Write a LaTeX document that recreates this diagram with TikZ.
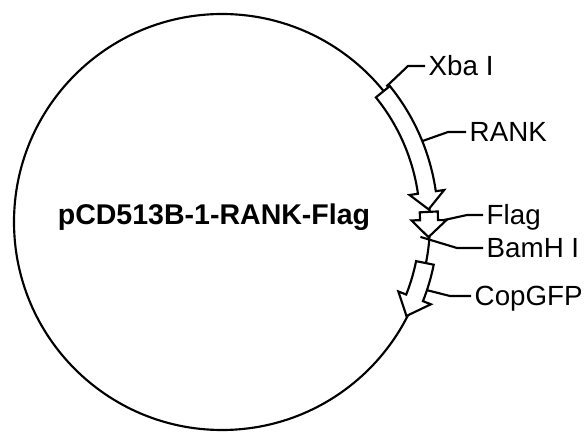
\documentclass[tikz,border=0pt]{standalone}
\usepackage{fontspec}
\setmainfont{Liberation Sans}
\usetikzlibrary{positioning}
\tikzset{
x=0.75pt, y=0.75pt, % one unit is one pixel of the map
gene/.style={draw, fill=white, line join=miter}, % the outlined feature arrows
leader/.style={draw, line join=round}, % the lines from a label to the ring
site/.style={anchor=west, inner xsep=2pt, inner ysep=0pt, text height=14.9pt, text depth=0pt, font=\fontsize{20.8}{24}\selectfont},
title/.style={anchor=base, inner sep=0pt, font=\fontsize{21.4}{25}\selectfont\bfseries},
}

\begin{document}
\begin{tikzpicture}[line width=1.6pt]
\useasboundingbox (0,0) rectangle (584,432);

\coordinate (c) at (222,210);
\draw (c) circle[radius=208];

\node[title] (plasmid) at (214,207) {pCD513B-1-RANK-Flag};

\begin{scope}[shift={(c)}]
% RANK
\draw[gene] (39:198) arc[start angle=39, end angle=8.2, radius=198] -- (8.2:189.5) -- (3.5:207) -- (8.2:224.5) -- (8.2:216) arc[start angle=8.2, end angle=39, radius=216] -- cycle;
% Flag
\draw[gene] (2.8:198) arc[start angle=2.8, end angle=0.5, radius=198] -- (0.5:189.5) -- (-4.2:207) -- (0.5:224.5) -- (0.5:216) arc[start angle=0.5, end angle=2.8, radius=216] -- cycle;
% CopGFP
\draw[gene] (-11.4:198) arc[start angle=-11.4, end angle=-21.5, radius=198] -- (-21.5:189.5) -- (-27:207) -- (-21.5:224.5) -- (-21.5:216) arc[start angle=-21.5, end angle=-11.4, radius=216] -- cycle;

\coordinate (xba) at (39.5:213);
\coordinate (rank) at (22:216);
\coordinate (flag) at (0.5:222);
\coordinate (bamh) at (-4.3:199);
\coordinate (copgfp) at (-18.4:216);
\end{scope}

\node[site] (xbalabel) at (425,366) {Xba I};
\node[site] (ranklabel) at (466,300) {RANK};
\node[site] (flaglabel) at (483,217) {Flag};
\node[site] (bamhlabel) at (483,184) {BamH I};
\node[site] (copgfplabel) at (471,136) {CopGFP};

\draw[leader] (xbalabel.west) -- ++(-17,0) -- (xba);
\draw[leader] (ranklabel.west) -- ++(-18,0) -- (rank);
\draw[leader] (flaglabel.west) -- ++(-16,0) -- (flag);
\draw[leader] (bamhlabel.west) -- ++(-26,0) -- (bamh);
\draw[leader] (copgfplabel.west) -- ++(-21,0) -- (copgfp);

\end{tikzpicture}
\end{document}
